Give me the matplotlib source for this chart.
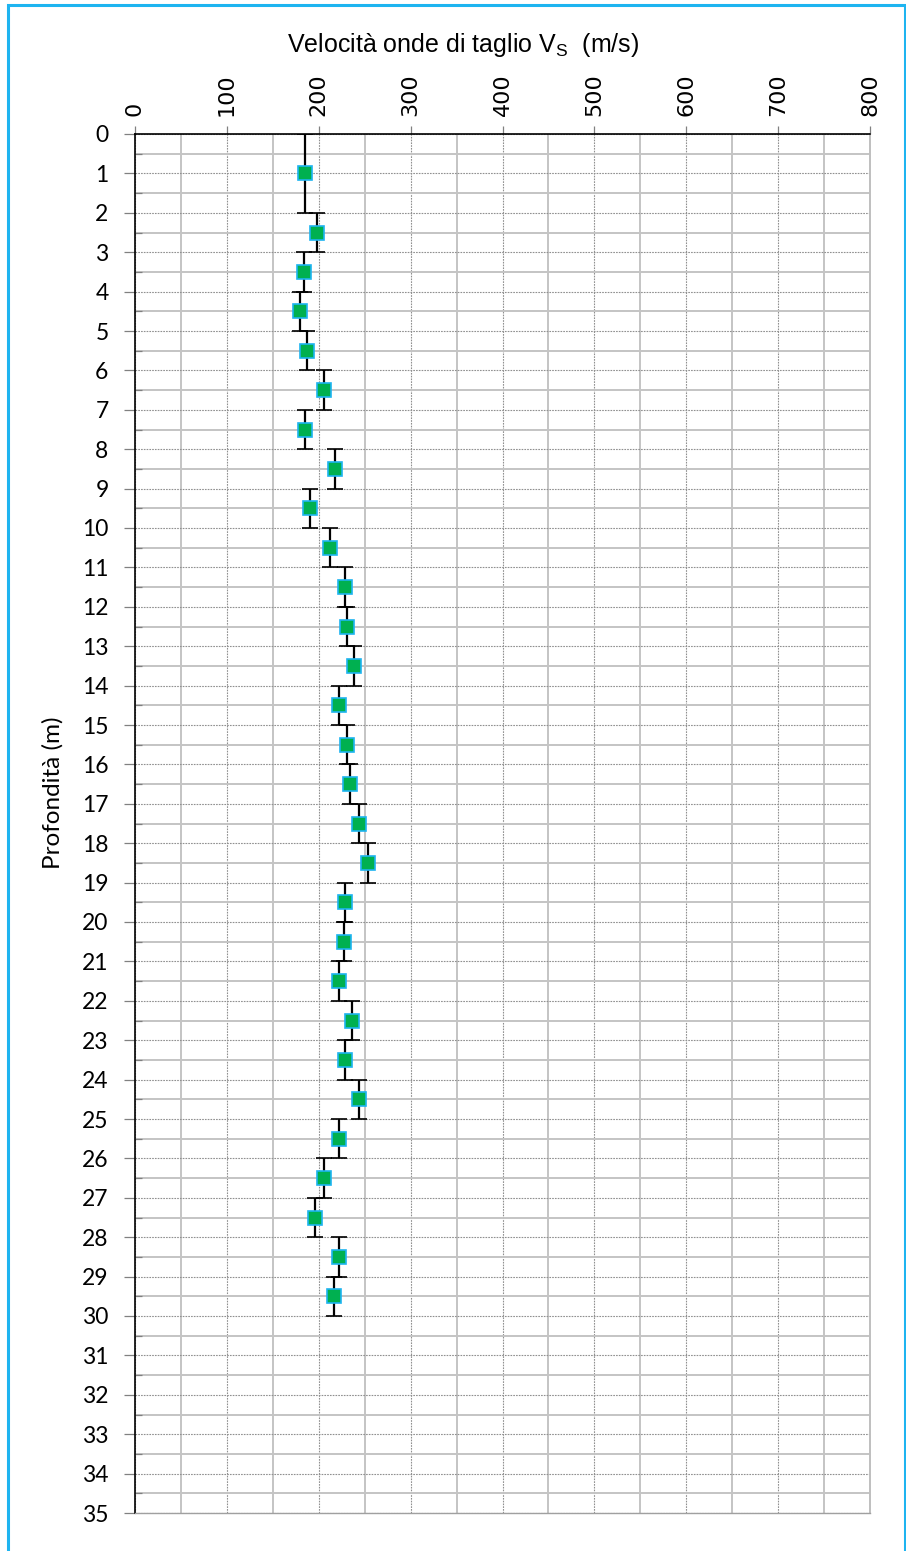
import matplotlib
matplotlib.use("Agg")
import matplotlib.pyplot as plt
from matplotlib.ticker import MultipleLocator
from matplotlib.patches import Rectangle

# Shear-wave velocity profile: one value per layer
layer_top = [0, 2, 3, 4, 5, 6, 7, 8, 9, 10, 11, 12, 13, 14, 15, 16, 17, 18, 19,
             20, 21, 22, 23, 24, 25, 26, 27, 28, 29]
layer_bottom = [2, 3, 4, 5, 6, 7, 8, 9, 10, 11, 12, 13, 14, 15, 16, 17, 18, 19,
                20, 21, 22, 23, 24, 25, 26, 27, 28, 29, 30]
vs = [185, 198, 184, 180, 187, 206, 185, 218, 191, 212, 229, 231, 238, 222,
      231, 234, 244, 254, 229, 227, 222, 236, 229, 244, 222, 206, 196, 222, 217]

x_ticks = [0, 100, 200, 300, 400, 500, 600, 700, 800]
y_ticks = list(range(0, 36))

depth_mid = [(a + b) / 2 for a, b in zip(layer_top, layer_bottom)]
half_thick = [(b - a) / 2 for a, b in zip(layer_top, layer_bottom)]

W, H = 906, 1551
fig = plt.figure(figsize=(W / 100, H / 100), dpi=100)

# light-blue frame around the chart area
fig.patches.append(Rectangle((8 / W, -0.05), (905 - 8) / W, 1.05 - 5 / H,
                             transform=fig.transFigure, fill=False,
                             edgecolor="#1EB4F0", linewidth=2.2, zorder=0))

ax = fig.add_axes([135 / W, 1 - 1513 / H, (870 - 135) / W, (1513 - 134) / H])

ax.set_xlim(0, 800)
ax.set_ylim(35, 0)

ax.xaxis.set_minor_locator(MultipleLocator(50))
ax.yaxis.set_minor_locator(MultipleLocator(0.5))
ax.set_xticks(x_ticks)
ax.set_yticks(y_ticks)

# minor grid: solid light grey; major grid: thin dotted grey
ax.grid(which="minor", color="#C4C4C4", linewidth=1.4, linestyle="-", zorder=0)
ax.grid(which="major", color="#909090", linewidth=0.8, linestyle=(0, (1.5, 1)), zorder=0)
ax.set_axisbelow(True)

ax.xaxis.set_ticks_position("top")
ax.xaxis.set_label_position("top")
ax.tick_params(axis="x", which="major", direction="out", length=6, width=0.9,
               color="#808080", pad=7, labelrotation=90)
ax.tick_params(axis="x", which="minor", length=0)
ax.tick_params(axis="y", which="major", direction="out", length=8, width=0.9,
               color="#808080", pad=11)
ax.tick_params(axis="y", which="minor", direction="in", length=5, width=0.9,
               color="#808080", left=True)

for lbl in ax.get_xticklabels():
    lbl.set_fontfamily("DejaVu Sans")
    lbl.set_fontsize(16)
for lbl in ax.get_yticklabels():
    lbl.set_fontfamily("Lato")
    lbl.set_fontsize(16.5)

ax.spines["top"].set_color("black")
ax.spines["left"].set_color("black")
ax.spines["top"].set_linewidth(1.2)
ax.spines["left"].set_linewidth(1.2)
ax.spines["right"].set_color("#BFBFBF")
ax.spines["bottom"].set_color("#A0A0A0")
ax.spines["right"].set_linewidth(1.4)
ax.spines["bottom"].set_linewidth(1.0)

ax.errorbar(vs, depth_mid, yerr=half_thick, fmt="s", color="black",
            ecolor="black", elinewidth=1.6, capsize=5.5, capthick=1.4,
            markersize=10, markerfacecolor="#00B050", markeredgecolor="#1EB4F0",
            markeredgewidth=1.2, zorder=3)

ax.set_ylabel("Profondità (m)", fontfamily="Lato", fontsize=17.5)
ax.yaxis.set_label_coords((64 - 135) / (870 - 135), (1513 - 793) / (1513 - 134))
fig.text((286 + 640) / 2 / W, 1 - 45 / H,
         r"Velocità onde di taglio V$_\mathregular{S}$  (m/s)",
         ha="center", va="center", fontfamily="Liberation Sans", fontsize=18)

fig.savefig("out.png", dpi=100)
